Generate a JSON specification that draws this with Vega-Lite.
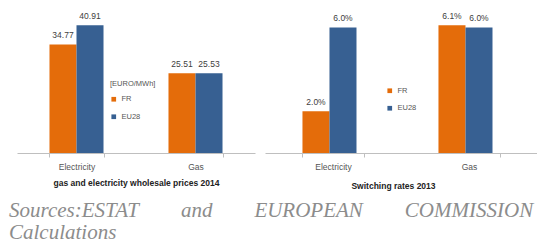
{
  "$schema": "https://vega.github.io/schema/vega-lite/v6.json",
  "padding": {"left": 9, "top": 10, "right": 0, "bottom": 0},
  "background": "white",
  "datasets": {
    "prices": [
      {"cat": "Electricity", "country": "FR", "value": 34.77},
      {"cat": "Electricity", "country": "EU28", "value": 40.91},
      {"cat": "Gas", "country": "FR", "value": 25.51},
      {"cat": "Gas", "country": "EU28", "value": 25.53}
    ],
    "switching": [
      {"cat": "Electricity", "country": "FR", "value": 0.02},
      {"cat": "Electricity", "country": "EU28", "value": 0.06},
      {"cat": "Gas", "country": "FR", "value": 0.061},
      {"cat": "Gas", "country": "EU28", "value": 0.06}
    ]
  },
  "config": {
    "font": "Liberation Sans",
    "view": {"stroke": null},
    "axis": {
      "domainColor": "#BFBFBF",
      "tickColor": "#BFBFBF",
      "tickSize": 4,
      "tickBand": "extent",
      "labelFontSize": 8.5,
      "labelColor": "#555555",
      "labelPadding": 5,
      "titleFontSize": 8.5,
      "titleFontWeight": "bold",
      "titleColor": "#222222",
      "labelAngle": 0
    },
    "legend": {
      "orient": "none",
      "symbolType": "square",
      "symbolSize": 22,
      "symbolStrokeWidth": 0,
      "labelFontSize": 7.5,
      "labelColor": "#555555",
      "titleFontSize": 7.5,
      "titleFontWeight": "normal",
      "titleColor": "#555555",
      "rowPadding": 8.5,
      "titlePadding": 8
    }
  },
  "title": {
    "text": ["Sources:ESTAT\u00a0\u00a0\u00a0\u00a0\u00a0\u00a0\u00a0\u00a0and\u00a0\u00a0\u00a0\u00a0\u00a0\u00a0\u00a0\u00a0EUROPEAN\u00a0\u00a0\u00a0\u00a0\u00a0\u00a0\u00a0\u00a0COMMISSION", "Calculations"],
    "orient": "bottom",
    "anchor": "start",
    "dx": -8,
    "offset": 10,
    "font": "Liberation Serif",
    "fontStyle": "italic",
    "fontWeight": "normal",
    "fontSize": 21,
    "lineHeight": 21.6,
    "color": "#8C8C8C"
  },
  "spacing": 10,
  "resolve": {"scale": {"color": "independent"}, "legend": {"color": "independent"}},
  "hconcat": [
    {
      "width": 238,
      "height": 143,
      "data": {"name": "prices"},
      "encoding": {
        "x": {
          "field": "cat", "type": "nominal", "sort": ["Electricity", "Gas"],
          "scale": {"paddingInner": 0.546, "paddingOuter": 0.273},
          "axis": {"title": "gas and electricity wholesale prices 2014", "titlePadding": 8}
        },
        "xOffset": {"field": "country", "type": "nominal", "sort": ["FR", "EU28"], "scale": {"paddingInner": 0, "paddingOuter": 0}},
        "y": {"field": "value", "type": "quantitative", "scale": {"domain": [0, 45.8], "nice": false}, "axis": null}
      },
      "layer": [
        {
          "mark": {"type": "bar"},
          "encoding": {
            "color": {
              "field": "country", "type": "nominal",
              "scale": {"domain": ["FR", "EU28"], "range": ["#E46C0A", "#376092"]},
              "legend": {"title": "[EURO/MWh]", "legendX": 93, "legendY": 70}
            }
          }
        },
        {
          "mark": {"type": "text", "baseline": "bottom", "dy": -4, "fontSize": 8.5, "color": "#404040"},
          "encoding": {"text": {"field": "value", "type": "quantitative", "format": ".2f"}}
        }
      ]
    },
    {
      "width": 272,
      "height": 143,
      "data": {"name": "switching"},
      "encoding": {
        "x": {
          "field": "cat", "type": "nominal", "sort": ["Electricity", "Gas"],
          "scale": {"paddingInner": 0.551, "paddingOuter": 0.2755},
          "axis": {"title": "Switching rates 2013", "titlePadding": 11, "titleX": 128}
        },
        "xOffset": {"field": "country", "type": "nominal", "sort": ["FR", "EU28"], "scale": {"paddingInner": 0, "paddingOuter": 0}},
        "y": {"field": "value", "type": "quantitative", "scale": {"domain": [0, 0.0683], "nice": false}, "axis": null}
      },
      "layer": [
        {
          "mark": {"type": "bar"},
          "encoding": {
            "color": {
              "field": "country", "type": "nominal",
              "scale": {"domain": ["FR", "EU28"], "range": ["#E46C0A", "#376092"]},
              "legend": {"title": null, "legendX": 121, "legendY": 77}
            }
          }
        },
        {
          "mark": {"type": "text", "baseline": "bottom", "dy": -4, "fontSize": 8.5, "color": "#404040"},
          "encoding": {"text": {"field": "value", "type": "quantitative", "format": ".1%"}}
        }
      ]
    }
  ]
}
